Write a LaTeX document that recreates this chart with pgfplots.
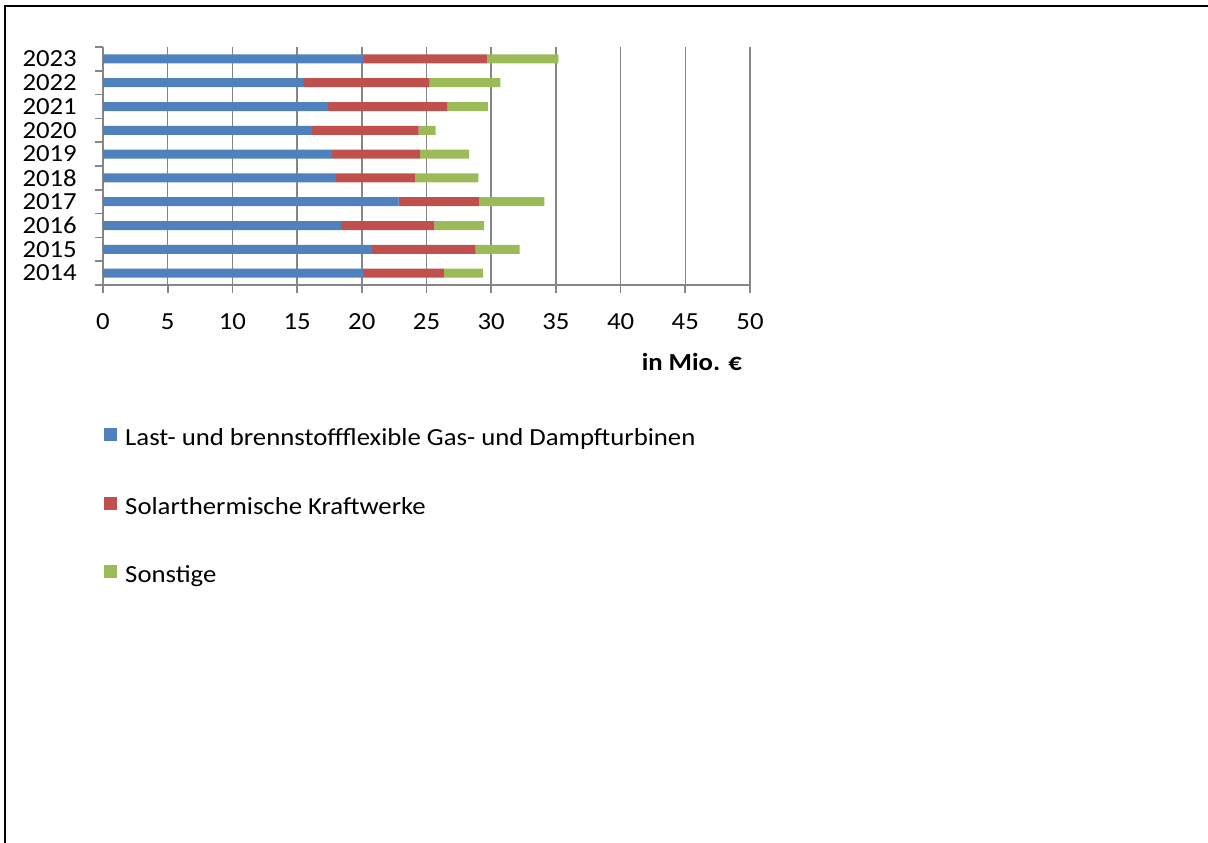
\documentclass[border=0pt]{standalone}
\usepackage{pgfplots}
\pgfplotsset{compat=1.18}
\usepackage{pgfplotstable}
\usepackage{fontspec}
\setmainfont{Carlito}[FakeStretch=1.09]
\definecolor{cblue}{HTML}{4F81BD}
\definecolor{cred}{HTML}{C0504D}
\definecolor{cgreen}{HTML}{9BBB59}
\definecolor{gridgray}{RGB}{134,134,134}
\newcommand\lbl{\fontsize{18.4pt}{22pt}\selectfont}
\pgfplotstableread{
y a b c
0 20.10 6.25 3.00
1 20.80 8.00 3.40
2 18.40 7.20 3.85
3 22.85 6.20 5.05
4 18.00 6.10 4.90
5 17.70 6.80 3.80
6 16.15 8.25 1.30
7 17.40 9.20 3.15
8 15.55 9.70 5.45
9 20.10 9.60 5.50
}\datatable
\begin{document}
\begin{tikzpicture}
\path[use as bounding box] (0pt,0pt) rectangle (906pt,-632.25pt);
\draw[line width=1.5pt] (3.75pt,-632.25pt) -- (3.75pt,-4.25pt) -- (906pt,-4.25pt);
\begin{axis}[
  at={(77.25pt,-213.75pt)}, anchor=south west,
  scale only axis, width=485.25pt, height=178.5pt,
  xbar stacked, bar width=6.75pt,
  xmin=0, xmax=50, ymin=-0.5, ymax=9.5,
  axis x line=bottom, axis y line=left,
  axis line style={gridgray, line width=1.2pt, -},
  xtick={0,5,...,50},
  ytick={-0.5,0.5,...,9.5},
  yticklabels={},
  extra y ticks={0,1,2,3,4,5,6,7,8,9},
  extra y tick labels={2014,2015,2016,2017,2018,2019,2020,2021,2022,2023},
  extra y tick style={major tick length=0pt, yticklabel style={font=\lbl, anchor=east, inner sep=0pt, xshift=-19.5pt}},
  tick align=outside,
  major tick length=6pt,
  tick style={gridgray, line width=1.2pt},
  xmajorgrids,
  major grid style={gridgray, line width=1.1pt},
  /pgf/number format/assume math mode=true,
  xticklabel style={font=\lbl, anchor=base, inner sep=0pt, yshift=-27pt},
  xlabel={\textbf{in Mio. €}},
  xlabel style={font=\lbl, at={(axis description cs:0.91,-0.3235)}, anchor=center},
  legend style={draw=none, fill=none, inner sep=0pt, at={(axis description cs:0.0015,-0.937)}, anchor=west,
    font=\lbl, row sep=33.9pt, column sep=6pt,
    nodes={inner sep=0pt, text height=12pt, text depth=4pt}},
  legend cell align=left,
  legend image code/.code={\fill[#1] (0pt,-0.5pt) rectangle (9.75pt,9.25pt);},
]
\addplot[fill=cblue, draw=none] table[x=a, y=y] {\datatable};
\addplot[fill=cred, draw=none] table[x=b, y=y] {\datatable};
\addplot[fill=cgreen, draw=none] table[x=c, y=y] {\datatable};
\legend{Last- und brennstoffflexible Gas- und Dampfturbinen, Solarthermische Kraftwerke, Sonstige}
\end{axis}
\end{tikzpicture}
\end{document}
